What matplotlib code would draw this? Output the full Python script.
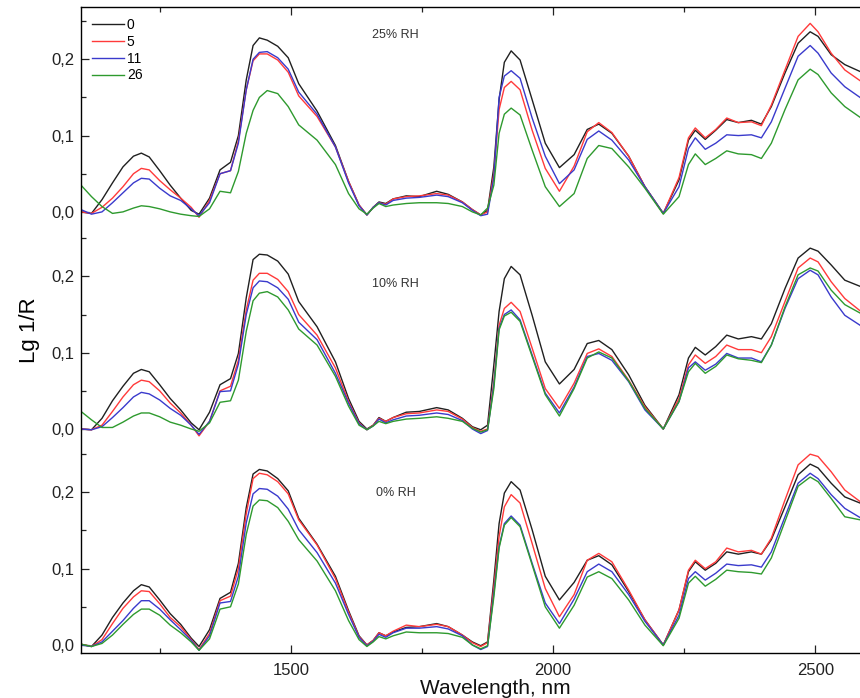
import matplotlib
matplotlib.use("Agg")
import matplotlib.pyplot as plt
from matplotlib.ticker import FixedLocator, FixedFormatter

plt.rcParams['font.family'] = ['Liberation Sans', 'DejaVu Sans']

# wavelength grid, nm
wl = [1100, 1120, 1140, 1160, 1180, 1200, 1215, 1230, 1250, 1270,
      1290, 1310, 1325, 1345, 1365, 1385, 1400, 1415, 1428, 1440,
      1455, 1475, 1495, 1515, 1550, 1585, 1610, 1630, 1645, 1657,
      1668, 1681, 1695, 1720, 1745, 1778, 1800, 1827, 1846, 1862,
      1875, 1887, 1897, 1907, 1920, 1937, 1960, 1985, 2012, 2040,
      2065, 2087, 2112, 2144, 2175, 2210, 2240, 2258, 2271, 2290,
      2310, 2331, 2353, 2378, 2397, 2416, 2442, 2467, 2490, 2505,
      2530, 2556, 2585]

series_labels = ['0', '5', '11', '26']
series_colors = ['#202020', '#ff3a3a', '#3a3acc', '#2e9a2e']

# 25% RH
top_0 = [0.000, -0.002, 0.016, 0.038, 0.059, 0.073, 0.077, 0.072, 0.054, 0.035,
         0.018, 0.002, -0.003, 0.018, 0.055, 0.065, 0.100, 0.173, 0.218, 0.228,
         0.225, 0.217, 0.202, 0.168, 0.132, 0.087, 0.040, 0.009, -0.004, 0.006,
         0.013, 0.011, 0.017, 0.021, 0.020, 0.027, 0.023, 0.013, 0.003, -0.004,
         0.002, 0.059, 0.147, 0.196, 0.211, 0.199, 0.147, 0.090, 0.058, 0.075,
         0.108, 0.115, 0.103, 0.073, 0.033, -0.002, 0.042, 0.094, 0.107, 0.095,
         0.107, 0.121, 0.117, 0.120, 0.115, 0.138, 0.182, 0.221, 0.236, 0.230,
         0.206, 0.193, 0.184]
top_5 = [0.000, -0.002, 0.006, 0.018, 0.033, 0.050, 0.057, 0.055, 0.041, 0.029,
         0.018, 0.006, -0.007, 0.015, 0.050, 0.054, 0.093, 0.160, 0.198, 0.207,
         0.207, 0.199, 0.183, 0.152, 0.125, 0.085, 0.040, 0.009, -0.004, 0.006,
         0.012, 0.010, 0.017, 0.020, 0.021, 0.024, 0.022, 0.013, 0.003, -0.004,
         0.000, 0.050, 0.134, 0.163, 0.171, 0.160, 0.107, 0.057, 0.027, 0.060,
         0.105, 0.117, 0.104, 0.073, 0.033, -0.002, 0.045, 0.097, 0.110, 0.097,
         0.108, 0.123, 0.117, 0.118, 0.113, 0.140, 0.186, 0.230, 0.247, 0.236,
         0.208, 0.186, 0.172]
top_11 = [0.003, -0.003, 0.000, 0.012, 0.025, 0.038, 0.044, 0.043, 0.031, 0.021,
          0.015, 0.004, -0.005, 0.012, 0.050, 0.054, 0.090, 0.160, 0.200, 0.209,
          0.210, 0.202, 0.187, 0.157, 0.128, 0.085, 0.038, 0.008, -0.004, 0.006,
          0.012, 0.009, 0.015, 0.018, 0.019, 0.022, 0.020, 0.012, 0.002, -0.005,
          -0.003, 0.045, 0.150, 0.178, 0.185, 0.175, 0.123, 0.073, 0.037, 0.055,
          0.095, 0.106, 0.094, 0.068, 0.033, -0.002, 0.033, 0.083, 0.097, 0.082,
          0.090, 0.101, 0.100, 0.101, 0.097, 0.118, 0.162, 0.204, 0.218, 0.208,
          0.182, 0.164, 0.150]
top_26 = [0.035, 0.020, 0.007, -0.002, 0.000, 0.005, 0.008, 0.007, 0.004, 0.000,
          -0.003, -0.005, -0.006, 0.004, 0.027, 0.025, 0.053, 0.103, 0.133, 0.150,
          0.159, 0.155, 0.138, 0.114, 0.094, 0.062, 0.024, 0.004, -0.003, 0.005,
          0.011, 0.007, 0.009, 0.011, 0.012, 0.012, 0.011, 0.007, 0.000, -0.004,
          0.005, 0.035, 0.103, 0.128, 0.136, 0.127, 0.081, 0.033, 0.007, 0.024,
          0.070, 0.087, 0.083, 0.059, 0.031, -0.003, 0.020, 0.062, 0.076, 0.062,
          0.070, 0.080, 0.076, 0.075, 0.070, 0.090, 0.134, 0.173, 0.187, 0.180,
          0.156, 0.138, 0.124]

# 10% RH
mid_0 = [0.000, -0.001, 0.014, 0.037, 0.056, 0.073, 0.078, 0.075, 0.058, 0.040,
         0.025, 0.008, -0.001, 0.022, 0.058, 0.066, 0.099, 0.172, 0.222, 0.229,
         0.228, 0.220, 0.203, 0.167, 0.134, 0.088, 0.040, 0.010, 0.000, 0.005,
         0.015, 0.010, 0.015, 0.022, 0.023, 0.028, 0.025, 0.014, 0.003, -0.001,
         0.005, 0.084, 0.154, 0.197, 0.213, 0.202, 0.149, 0.088, 0.059, 0.078,
         0.112, 0.116, 0.104, 0.071, 0.031, 0.000, 0.045, 0.093, 0.107, 0.097,
         0.108, 0.123, 0.118, 0.121, 0.118, 0.138, 0.184, 0.224, 0.237, 0.233,
         0.215, 0.195, 0.187]
mid_5 = [0.000, -0.001, 0.005, 0.023, 0.042, 0.058, 0.064, 0.062, 0.050, 0.034,
         0.021, 0.005, -0.009, 0.010, 0.050, 0.056, 0.090, 0.156, 0.195, 0.204,
         0.204, 0.196, 0.180, 0.150, 0.123, 0.080, 0.036, 0.008, -0.001, 0.005,
         0.014, 0.010, 0.015, 0.020, 0.021, 0.025, 0.023, 0.013, 0.002, -0.003,
         0.000, 0.062, 0.136, 0.158, 0.166, 0.154, 0.106, 0.053, 0.027, 0.060,
         0.099, 0.105, 0.095, 0.064, 0.029, 0.000, 0.040, 0.084, 0.097, 0.086,
         0.095, 0.110, 0.104, 0.104, 0.100, 0.121, 0.167, 0.211, 0.224, 0.219,
         0.193, 0.171, 0.155]
mid_11 = [0.000, -0.001, 0.003, 0.015, 0.028, 0.042, 0.048, 0.046, 0.038, 0.027,
          0.018, 0.005, -0.007, 0.010, 0.049, 0.050, 0.085, 0.150, 0.185, 0.194,
          0.193, 0.185, 0.170, 0.140, 0.117, 0.073, 0.034, 0.007, -0.001, 0.004,
          0.013, 0.008, 0.012, 0.017, 0.018, 0.021, 0.019, 0.011, 0.000, -0.006,
          -0.002, 0.058, 0.132, 0.150, 0.156, 0.143, 0.097, 0.047, 0.021, 0.055,
          0.095, 0.099, 0.090, 0.062, 0.025, 0.000, 0.036, 0.080, 0.088, 0.077,
          0.085, 0.099, 0.093, 0.093, 0.088, 0.110, 0.158, 0.197, 0.208, 0.202,
          0.173, 0.149, 0.136]
mid_26 = [0.023, 0.012, 0.002, 0.002, 0.009, 0.017, 0.021, 0.021, 0.016, 0.009,
          0.005, 0.000, -0.003, 0.008, 0.035, 0.037, 0.064, 0.128, 0.168, 0.178,
          0.180, 0.173, 0.156, 0.131, 0.110, 0.069, 0.030, 0.005, -0.001, 0.004,
          0.010, 0.007, 0.010, 0.013, 0.014, 0.016, 0.014, 0.010, 0.001, -0.004,
          -0.001, 0.053, 0.130, 0.148, 0.153, 0.141, 0.095, 0.045, 0.017, 0.053,
          0.093, 0.101, 0.093, 0.063, 0.027, 0.000, 0.036, 0.075, 0.086, 0.073,
          0.082, 0.097, 0.092, 0.090, 0.087, 0.110, 0.160, 0.202, 0.211, 0.207,
          0.182, 0.163, 0.152]

# 0% RH
bot_0 = [0.001, -0.002, 0.013, 0.036, 0.055, 0.071, 0.079, 0.076, 0.059, 0.041,
         0.027, 0.009, -0.002, 0.020, 0.061, 0.069, 0.107, 0.180, 0.224, 0.230,
         0.228, 0.218, 0.202, 0.166, 0.132, 0.090, 0.045, 0.012, 0.000, 0.006,
         0.016, 0.012, 0.017, 0.023, 0.024, 0.028, 0.024, 0.013, 0.004, -0.001,
         0.004, 0.085, 0.159, 0.199, 0.214, 0.203, 0.151, 0.090, 0.059, 0.082,
         0.111, 0.117, 0.105, 0.070, 0.033, 0.000, 0.046, 0.096, 0.109, 0.098,
         0.107, 0.122, 0.119, 0.122, 0.119, 0.138, 0.181, 0.223, 0.237, 0.232,
         0.212, 0.194, 0.186]
bot_5 = [0.001, -0.002, 0.007, 0.028, 0.048, 0.063, 0.071, 0.070, 0.054, 0.036,
         0.024, 0.007, -0.006, 0.015, 0.058, 0.064, 0.100, 0.172, 0.218, 0.225,
         0.223, 0.214, 0.198, 0.164, 0.131, 0.087, 0.043, 0.011, 0.000, 0.006,
         0.016, 0.012, 0.018, 0.026, 0.024, 0.027, 0.024, 0.013, 0.003, -0.002,
         0.003, 0.076, 0.142, 0.181, 0.197, 0.186, 0.133, 0.074, 0.037, 0.066,
         0.111, 0.120, 0.109, 0.072, 0.033, 0.000, 0.046, 0.098, 0.111, 0.100,
         0.109, 0.127, 0.122, 0.124, 0.119, 0.140, 0.190, 0.236, 0.250, 0.247,
         0.227, 0.203, 0.188]
bot_11 = [0.000, -0.002, 0.004, 0.018, 0.032, 0.048, 0.058, 0.058, 0.047, 0.033,
          0.020, 0.006, -0.007, 0.012, 0.055, 0.057, 0.090, 0.160, 0.198, 0.205,
          0.204, 0.195, 0.178, 0.151, 0.121, 0.081, 0.040, 0.010, -0.001, 0.005,
          0.014, 0.010, 0.016, 0.022, 0.022, 0.024, 0.021, 0.012, 0.000, -0.006,
          -0.002, 0.068, 0.129, 0.159, 0.169, 0.157, 0.107, 0.055, 0.028, 0.060,
          0.096, 0.106, 0.096, 0.066, 0.031, 0.000, 0.039, 0.087, 0.096, 0.085,
          0.094, 0.106, 0.104, 0.105, 0.102, 0.122, 0.168, 0.212, 0.225, 0.218,
          0.197, 0.179, 0.167]
bot_26 = [0.001, -0.002, 0.002, 0.013, 0.027, 0.040, 0.047, 0.047, 0.039, 0.026,
          0.016, 0.004, -0.007, 0.008, 0.047, 0.050, 0.080, 0.145, 0.182, 0.190,
          0.189, 0.180, 0.162, 0.138, 0.110, 0.071, 0.032, 0.007, -0.002, 0.004,
          0.011, 0.008, 0.012, 0.017, 0.016, 0.016, 0.015, 0.010, 0.000, -0.005,
          -0.001, 0.063, 0.127, 0.157, 0.167, 0.155, 0.105, 0.050, 0.022, 0.052,
          0.089, 0.096, 0.087, 0.059, 0.026, -0.001, 0.035, 0.081, 0.090, 0.077,
          0.086, 0.098, 0.096, 0.095, 0.093, 0.114, 0.162, 0.208, 0.220, 0.214,
          0.192, 0.168, 0.164]

# (curves, vertical offset, label, label height inside panel)
panels = [
    ([bot_0, bot_5, bot_11, bot_26], 0.0, '0% RH', 0.199),
    ([mid_0, mid_5, mid_11, mid_26], 0.283, '10% RH', 0.190),
    ([top_0, top_5, top_11, top_26], 0.5675, '25% RH', 0.232),
]

fig = plt.figure(figsize=(8.6, 6.98), dpi=100)
ax = fig.add_axes([0.0942, 0.0645, 0.9058, 0.9255])

for curves, off, name, ly in panels:
    for i, vals in enumerate(curves):
        assert len(vals) == len(wl)
        lab = series_labels[i] if off > 0.5 else None
        ax.plot(wl, [v + off for v in vals], color=series_colors[i], lw=1.0,
                label=lab, solid_joinstyle='round')
    ax.text(1700, off + ly, name, fontsize=9, color='#333333', ha='center', va='center')

ax.set_xlim(1100, 2585)
ax.set_ylim(-0.0105, 0.836)

# repeated y scale for each panel
offsets = [p[1] for p in panels]
major_y, major_lab, minor_y = [], [], []
for off in offsets:
    for v, s in zip([0.0, 0.1, 0.2], ['0,0', '0,1', '0,2']):
        major_y.append(off + v)
        major_lab.append(s)
    for v in [0.05, 0.15, 0.25]:
        minor_y.append(off + v)
ax.yaxis.set_major_locator(FixedLocator(major_y))
ax.yaxis.set_major_formatter(FixedFormatter(major_lab))
ax.yaxis.set_minor_locator(FixedLocator(minor_y))
ax.xaxis.set_major_locator(FixedLocator([1500, 2000, 2500]))
ax.xaxis.set_minor_locator(FixedLocator([1250, 1750, 2250]))

ax.tick_params(which='both', direction='in', top=True, right=False, colors='#222222')
ax.tick_params(which='major', length=6, width=0.9, labelsize=12)
ax.tick_params(which='minor', length=3.5, width=0.9)
ax.tick_params(axis='x', pad=7)
ax.tick_params(axis='y', pad=5)
ax.spines['right'].set_visible(False)
for s in ['left', 'top', 'bottom']:
    ax.spines[s].set_linewidth(1.0)

# x label sits at the very bottom edge, as in the original
fig.text(495 / 860, 0.0, 'Wavelength, nm', fontsize=15, color='#111111',
         ha='center', va='bottom')
ax.set_ylabel('Lg 1/R', fontsize=16, labelpad=8)

ax.legend(loc='upper left', bbox_to_anchor=(0.0, 1.0), frameon=False, fontsize=10,
          handlelength=2.3, handletextpad=0.2, labelspacing=0.2, borderaxespad=0.4)

fig.savefig('out.png', dpi=100)
